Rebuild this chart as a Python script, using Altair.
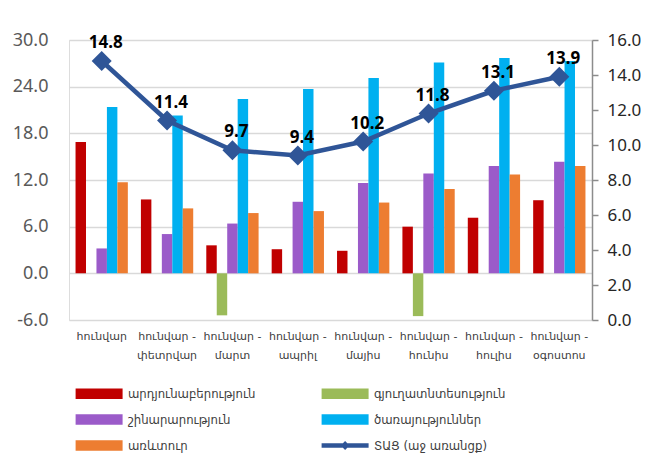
import altair as alt
import pandas as pd

categories = [
    "հունվար",
    "հունվար -\nփետրվար",
    "հունվար -\nմարտ",
    "հունվար -\nապրիլ",
    "հունվար -\nմայիս",
    "հունվար -\nհունիս",
    "հունվար -\nհուլիս",
    "հունվար -\nօգոստոս",
]

series_names = [
    "արդյունաբերություն",
    "գյուղատնտեսություն",
    "շինարարություն",
    "ծառայություններ",
    "առևտուր",
]
line_name = "ՏԱՑ (աջ առանցք)"

industry = [16.9, 9.5, 3.6, 3.1, 2.9, 6.0, 7.15, 9.4]
agriculture = [None, None, -5.4, None, None, -5.5, None, None]
construction = [3.2, 5.05, 6.4, 9.2, 11.6, 12.85, 13.8, 14.35]
services = [21.4, 20.3, 22.4, 23.7, 25.1, 27.1, 27.7, 27.3]
trade = [11.7, 8.35, 7.75, 8.0, 9.1, 10.85, 12.7, 13.8]

gdp = [14.8, 11.4, 9.7, 9.4, 10.2, 11.8, 13.1, 13.9]

colors = ["#C00000", "#9BBB59", "#9B5BC9", "#00B0F0", "#ED7D31", "#2F5597"]

all_series = series_names + [line_name]
rect_path = "M-4,-0.9H4V0.9H-4Z"
line_path = "M-4,-0.38H4V0.38H-4Z M0,-0.75L0.75,0L0,0.75L-0.75,0Z"
shape_paths = [rect_path] * 5 + [line_path]

rows = []
for name, vals in zip(series_names, [industry, agriculture, construction, services, trade]):
    for c, v in zip(categories, vals):
        rows.append({"category": c, "series": name, "value": v})
bar_df = pd.DataFrame(rows)
line_df = pd.DataFrame({"category": categories, "gdp": gdp})
legend_df = pd.DataFrame({"series": all_series})

FONT = "DejaVu Sans"
LEG_FONT = "DejaVu Sans Condensed, DejaVu Sans"
NUM_FONT = "Noto Sans"

x_enc = alt.X(
    "category:N",
    sort=categories,
    scale=alt.Scale(paddingInner=0.2, paddingOuter=0.1),
    axis=alt.Axis(
        title=None, labelAngle=0, ticks=False, domain=False, grid=False,
        labelExpr="split(datum.label, '\\n')",
        labelFont=FONT, labelFontSize=11, labelColor="#404040",
        labelPadding=10, labelLineHeight=19, labelBaseline="top",
    ),
)

legend = alt.Legend(
    title=None, orient="none", legendX=23.6, legendY=347, columns=2,
    direction="horizontal",
    symbolSize=138, symbolOpacity=1, symbolStrokeWidth=0,
    labelOffset=22.3, labelFont=LEG_FONT, labelFontSize=13, labelColor="#404040",
    columnPadding=66, rowPadding=12, padding=0,
)

color_enc = alt.Color(
    "series:N",
    scale=alt.Scale(domain=all_series, range=colors),
    legend=legend,
)

bars = alt.Chart(bar_df).mark_bar().encode(
    x=x_enc,
    xOffset=alt.XOffset("series:N", scale=alt.Scale(domain=series_names, paddingInner=0, paddingOuter=0)),
    y=alt.Y(
        "value:Q",
        scale=alt.Scale(domain=[-6, 30], nice=False, zero=False),
        axis=alt.Axis(
            title=None, values=[-6, 0, 6, 12, 18, 24, 30], format=".1f",
            labelExpr="replace(datum.label, '−', '-')",
            domain=False, ticks=False, tickSize=0, grid=True,
            gridColor="#D9D9D9", gridWidth=1.5,
            labelFont=NUM_FONT, labelFontSize=18, labelColor="#595959", labelPadding=21,
        ),
    ),
    color=color_enc,
)

dummy = alt.Chart(legend_df).mark_point(opacity=0, filled=True).encode(
    color=color_enc,
    shape=alt.Shape("series:N", scale=alt.Scale(domain=all_series, range=shape_paths), legend=legend),
)

y_right = alt.Y(
    "gdp:Q",
    scale=alt.Scale(domain=[0, 16], nice=False, zero=False),
    axis=alt.Axis(
        title=None, orient="right", values=[0, 2, 4, 6, 8, 10, 12, 14, 16], format=".1f",
        grid=False, domain=True, domainColor="#8C8C8C", domainWidth=1.5,
        ticks=True, tickColor="#8C8C8C", tickWidth=1.5, tickSize=6,
        labelFont=NUM_FONT, labelFontSize=17, labelColor="#262626", labelPadding=9,
    ),
)

line = alt.Chart(line_df).mark_line(color="#2F5597", strokeWidth=4.5).encode(x=x_enc, y=y_right)
pts = alt.Chart(line_df).mark_point(shape="diamond", filled=True, size=400, color="#2F5597", opacity=1).encode(x=x_enc, y=y_right)
labels = alt.Chart(line_df).mark_text(
    fontSize=17, fontWeight="bold", font=NUM_FONT, color="#000000", dx=4, dy=-18, baseline="middle"
).encode(x=x_enc, y=y_right, text=alt.Text("gdp:Q", format=".1f"))

left = alt.layer(bars, dummy)
right = alt.layer(line, pts, labels)

chart = alt.layer(left, right).resolve_scale(y="independent").properties(
    width=523, height=280,
    autosize=alt.AutoSizeParams(type="none"),
    padding={"left": 61, "top": 32, "right": 49, "bottom": 134},
).configure_view(stroke=None).configure(background="white")

chart.save("out.html", embed_options={"renderer": "svg", "actions": False})
